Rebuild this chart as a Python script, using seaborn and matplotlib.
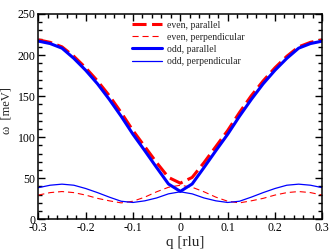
import numpy as np
import pandas as pd
import seaborn as sns
import matplotlib
matplotlib.use('Agg')
import matplotlib.pyplot as plt
from matplotlib.ticker import MultipleLocator

# q grid [rlu]
q = [-0.3, -0.275, -0.25, -0.225, -0.2, -0.175, -0.15, -0.125, -0.1, -0.075, -0.05, -0.025,
     0.0, 0.025, 0.05, 0.075, 0.1, 0.125, 0.15, 0.175, 0.2, 0.225, 0.25, 0.275, 0.3]

# energies [meV]
even_par = [218.5, 215.5, 210, 198.5, 184.5, 168.5, 150.5, 130, 108, 88.5, 69, 51,
            44, 51, 69, 88.5, 108, 130, 150.5, 168.5, 184.5, 198.5, 210, 215.5, 218.5]
even_perp = [29.5, 32.5, 33.8, 32.5, 29.5, 25.5, 22.5, 20, 22, 27, 33.5, 39,
             41.5, 39, 33.5, 27, 22, 20, 22.5, 25.5, 29.5, 32.5, 33.8, 32.5, 29.5]
odd_par = [217, 214, 208.4, 196, 181.5, 165, 146, 125.5, 103.5, 83.5, 63, 43,
           34, 43, 63, 83.5, 103.5, 125.5, 146, 165, 181.5, 196, 208.4, 214, 217]
odd_perp = [38.5, 41.5, 42.8, 41.5, 37.5, 32.5, 27, 22, 20.5, 22.5, 26, 31,
            33.5, 31, 26, 22.5, 20.5, 22, 27, 32.5, 37.5, 41.5, 42.8, 41.5, 38.5]

labels = ['even, parallel', 'even, perpendicular', 'odd, parallel', 'odd, perpendicular']

df = pd.DataFrame({'q': q * 4,
                   'E': even_par + even_perp + odd_par + odd_perp,
                   'mode': np.repeat(labels, len(q))})

sns.set_style('ticks')
plt.rcParams['font.family'] = ['Liberation Serif', 'DejaVu Serif']
plt.rcParams['axes.unicode_minus'] = False

fig = plt.figure(figsize=(3.32, 2.5), dpi=100)
ax = fig.add_axes([0.1154, 0.1228, 0.8554, 0.8212])

styles = {
    'even, parallel': dict(color='#ff0000', lw=2.2, dashes=(4.6, 1.8)),
    'even, perpendicular': dict(color='#ff0000', lw=0.8, dashes=(5.5, 3.5)),
    'odd, parallel': dict(color='#0000ff', lw=2.2, dashes=None),
    'odd, perpendicular': dict(color='#0000ff', lw=0.9, dashes=None),
}

for name in labels:
    st = styles[name]
    sub = df[df['mode'] == name]
    sns.lineplot(data=sub, x='q', y='E', ax=ax, color=st['color'], lw=st['lw'], label=name)
    if st['dashes'] is not None:
        ax.get_lines()[-1].set_dashes(st['dashes'])

ax.set_xlim(-0.3, 0.3)
ax.set_ylim(0, 250)
ax.xaxis.set_minor_locator(MultipleLocator(0.02))
ax.yaxis.set_major_locator(MultipleLocator(50))
ax.yaxis.set_minor_locator(MultipleLocator(10))
ax.set_xticks([-0.3, -0.2, -0.1, 0, 0.1, 0.2, 0.3])
ax.set_xticklabels(['-0.3', '-0.2', '-0.1', '0', '0.1', '0.2', '0.3'])

ax.tick_params(which='both', direction='in', top=True, right=True, width=1.0,
               labelsize=8.5, colors='black', pad=2)
ax.tick_params(which='major', length=5)
ax.tick_params(which='minor', length=2.7)
for sp in ax.spines.values():
    sp.set_linewidth(1.1)
    sp.set_color('black')

ax.set_xlabel('q [rlu]', fontsize=11)
ax.set_ylabel('ω  [meV]', fontsize=9)
ax.xaxis.set_label_coords(0.518, -0.08)
ax.yaxis.set_label_coords(-0.09, 0.53)

leg = ax.legend(loc='upper left', bbox_to_anchor=(0.33, 0.968), frameon=False,
                fontsize=7, handlelength=3.1, handletextpad=0.45,
                labelspacing=0.32, borderpad=0, borderaxespad=0)

fig.savefig('out.png', dpi=100)
